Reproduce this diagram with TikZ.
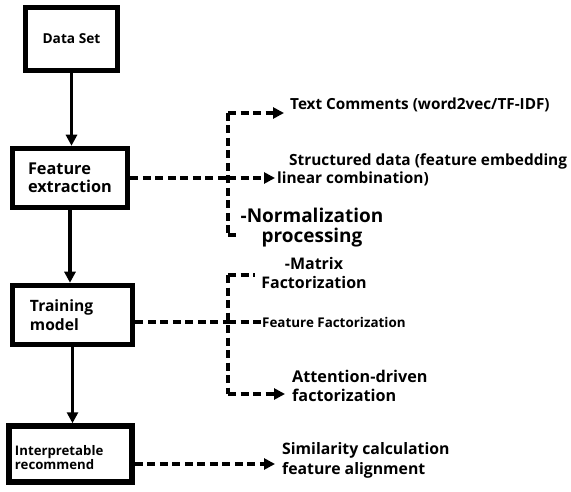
\documentclass[tikz,border=0pt]{standalone}
\usepackage{fontspec}
\setmainfont{Open Sans}
\usetikzlibrary{arrows.meta}
\usetikzlibrary{positioning}

\begin{document}
\begin{tikzpicture}[x=1pt, y=-1pt, >={Triangle[width=11pt,length=11pt]},
    stepbox/.style={draw, line width=5.5pt, align=left, inner xsep=0pt},
    flow/.style={->, line width=3.2pt},
    link/.style={line width=3.2pt, dash pattern=on 8pt off 4.5pt},
    lbl/.style={anchor=west, align=left, font=\bfseries\fontsize{15.3}{19}\selectfont, inner sep=0pt}]
        \useasboundingbox (0,0) rectangle (571,492);
        % main column
        \node[stepbox, minimum width=92pt, minimum height=63pt, align=center, font=\bfseries\fontsize{13.7}{16}\selectfont] (data) at (71.5,39) {Data Set};
        \node[stepbox, minimum width=115pt, minimum height=59pt, text width=84pt, font=\bfseries\fontsize{16.3}{18}\selectfont] (feat) at (70,178) {Feature\\extraction};
        \node[stepbox, minimum width=120pt, minimum height=59pt, text width=85pt, font=\bfseries\fontsize{15.6}{19}\selectfont] (train) at (72.5,315) {Training\\model};
        \node[stepbox, minimum width=123pt, minimum height=56pt, text width=111pt, font=\bfseries\fontsize{13.2}{13.5}\selectfont] (interp) at (70.5,454) {\rule{0pt}{17pt}Interpretable\\recommend};
        \draw[flow] (data.south) -- (data.south |- feat.north);
        \draw[flow] (feat.south) -- (feat.south |- train.north);
        \draw[flow] (train.south) -- (train.south |- interp.north);
        % feature extraction branches
        \coordinate (fj) at (228,178);
        \coordinate (ftop) at (228,113);
        \coordinate (fbot) at (228,235);
        \node[lbl] (txt) at (290,105) {Text Comments (word2vec/TF-IDF)};
        \node[lbl, font=\bfseries\fontsize{15.4}{18}\selectfont] (struct) at (277,170) {\hspace*{12pt}Structured data (feature embedding\\linear combination)};
        \node[align=center, inner sep=0pt, font=\bfseries\fontsize{19}{20}\selectfont] (norm) at (312,228) {-Normalization\\processing};
        \draw[link] (feat.east |- fj) -- (fj);
        \draw[link] (ftop) -- (fbot);
        \draw[link,->] (ftop) -- ([xshift=-6pt]txt.west |- ftop);
        \draw[link,->] (fj) -- ([xshift=-2pt]struct.west |- fj);
        \draw[link] (fbot) -- ++(9,0);
        % training model branches
        \coordinate (tj) at (228,322);
        \coordinate (ttop) at (228,275);
        \coordinate (tbot) at (228,394);
        \node[align=center, inner sep=0pt, font=\bfseries\fontsize{16}{19}\selectfont] (mf) at (314,273) {-Matrix\\Factorization};
        \node[lbl, font=\bfseries\fontsize{13.4}{15}\selectfont] (ff) at (262,322) {Feature Factorization};
        \node[lbl, font=\bfseries\fontsize{16.2}{19}\selectfont] (attn) at (292,386) {Attention-driven\\factorization};
        \draw[link] (train.east |- tj) -- (tj);
        \draw[link] (ttop) -- (tbot);
        \draw[link] (ttop) -- ++(27,0);
        \draw[link] (tj) -- (ff.west);
        \draw[link,->] (tbot) -- ([xshift=-7pt]attn.west |- tbot);
        % recommendation
        \coordinate (rj) at (133,464);
        \node[lbl, font=\bfseries\fontsize{15.8}{20}\selectfont] (sim) at (282,460) {Similarity calculation\\feature alignment};
        \draw[link,->] (interp.east |- rj) -- ([xshift=-7pt]sim.west |- rj);
\end{tikzpicture}
\end{document}
